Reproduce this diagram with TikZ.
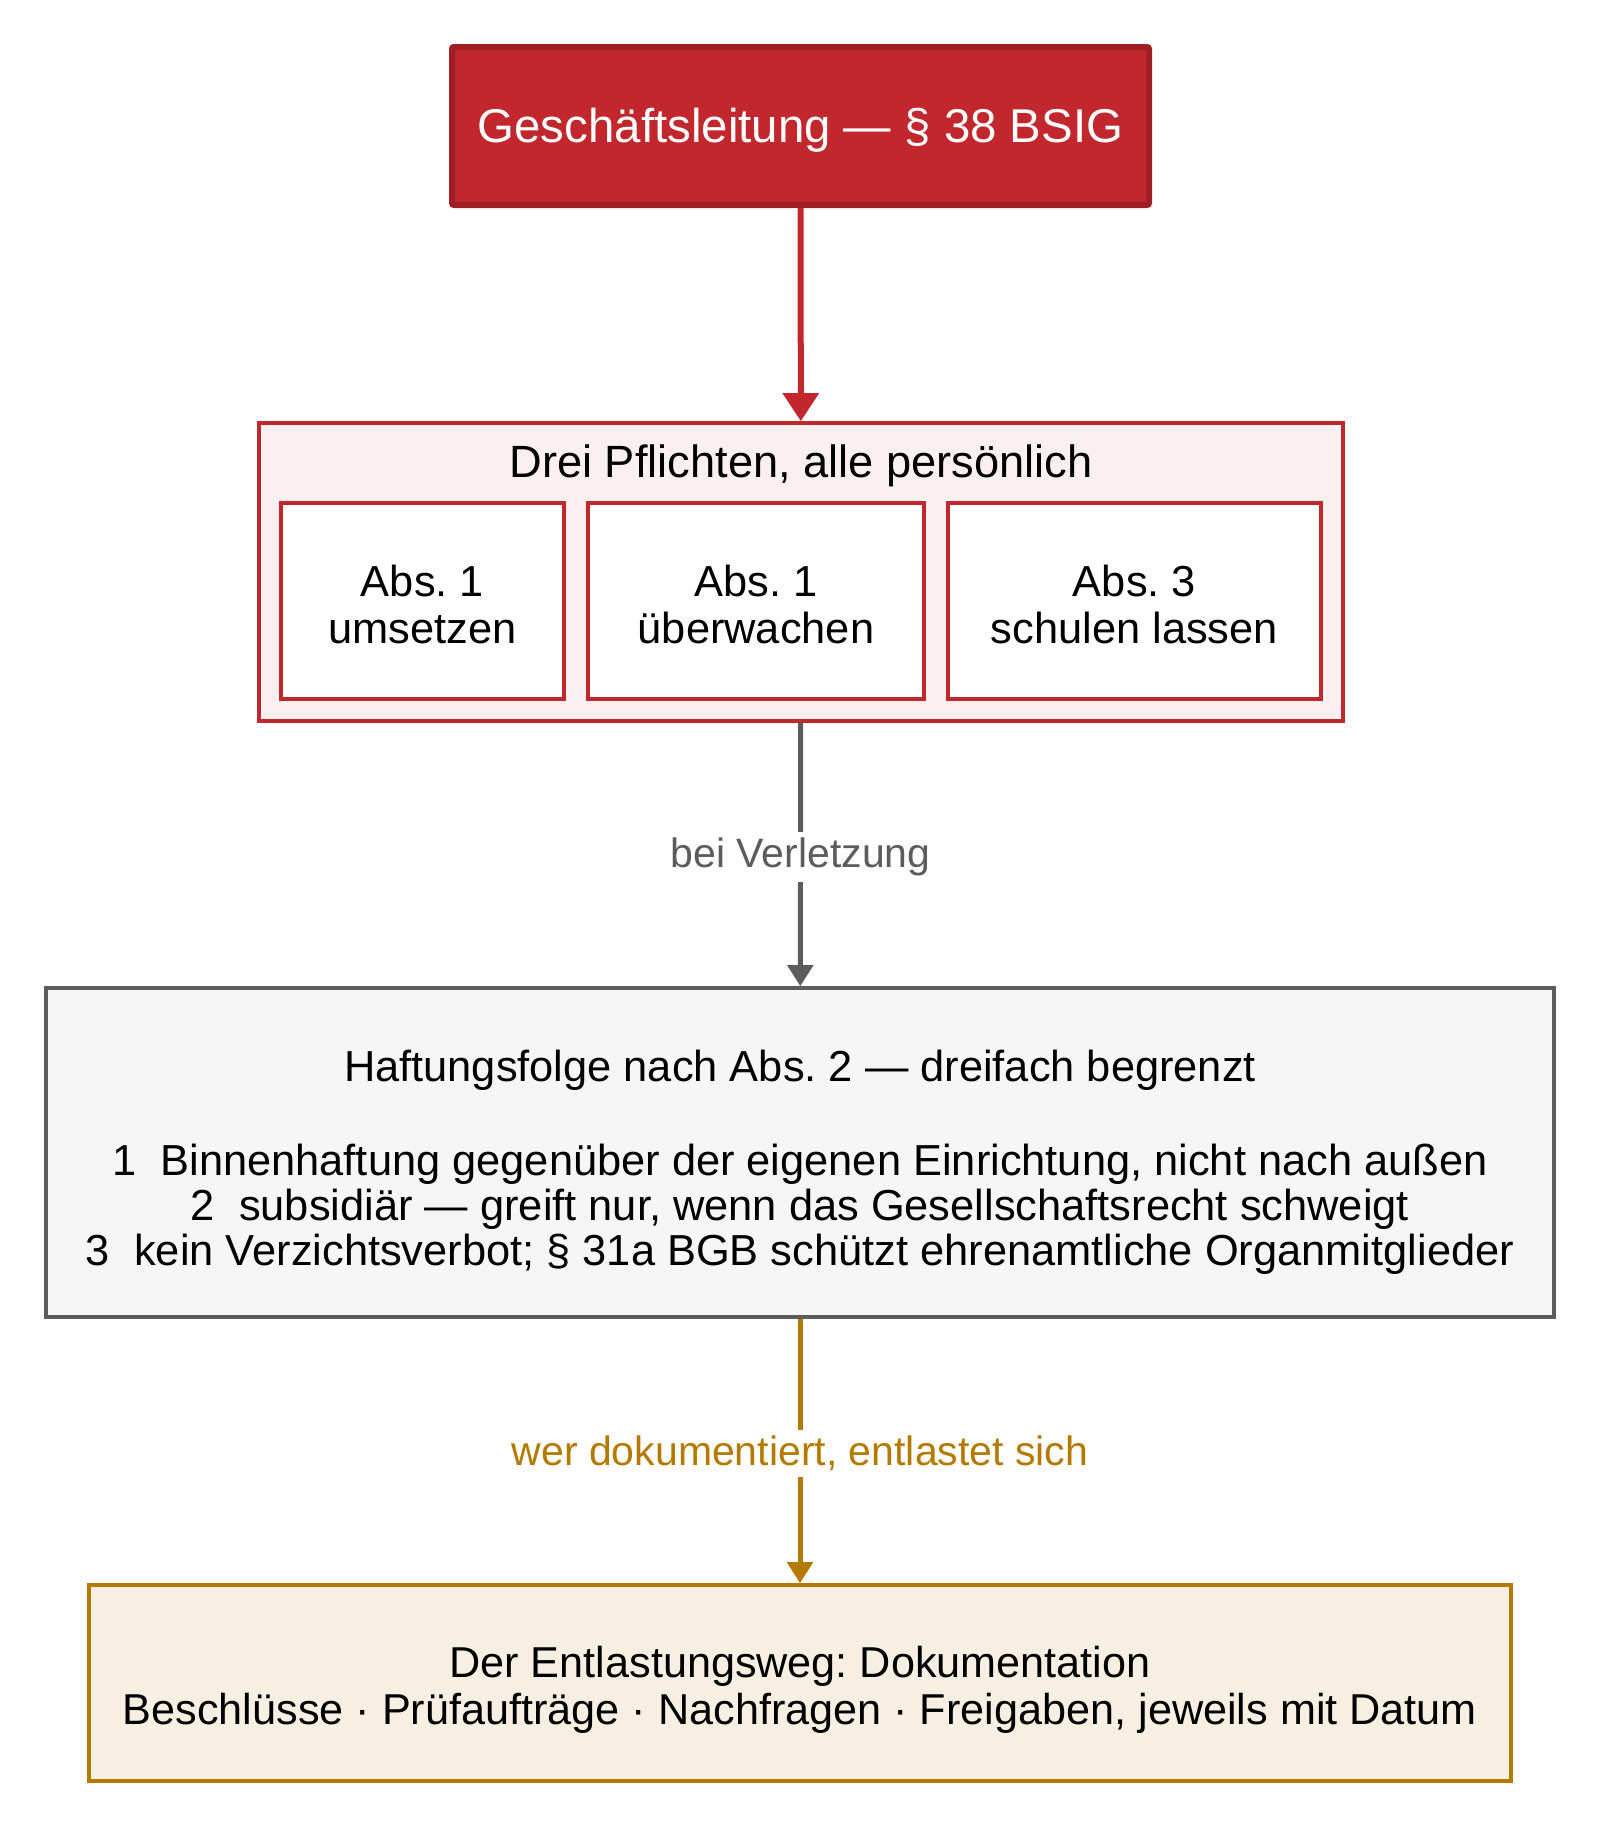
\documentclass[tikz,border=0pt]{standalone}
\usepackage{fontspec}
\setmainfont{Liberation Sans}
\frenchspacing
\usetikzlibrary{arrows.meta}
\definecolor{leitrot}{HTML}{C1272D}
\definecolor{leitrotdunkel}{HTML}{A01F27}
\definecolor{pflichtgrund}{HTML}{FAF0F0}
\definecolor{haftgrau}{HTML}{5C5C5C}
\definecolor{haftgrund}{HTML}{F6F6F6}
\definecolor{entgold}{HTML}{B47A00}
\definecolor{entgrund}{HTML}{F7F0E2}

\begin{document}
\begin{tikzpicture}[x=0.5pt,y=-0.5pt,
		textfont/.style={font=\fontsize{21.7}{23.5}\selectfont},
		labelfont/.style={font=\fontsize{20.5}{24}\selectfont},
		box/.style={draw,rectangle,inner sep=0pt,line width=1.8pt},
		boxtext/.style={align=center,inner sep=0pt,textfont},
		absbox/.style={box,draw=leitrot,fill=white,minimum height=98pt},
		pfeil/.style={line width=2.5pt,-{Triangle[length=10.5pt,width=12.5pt]}},
		pfeillabel/.style={fill=white,inner sep=3pt,yshift=-1.2pt,labelfont}]
	\useasboundingbox (0,0) rectangle (1600,1828);
	
	\node[box,draw=leitrotdunkel,fill=leitrot,line width=3pt,rounded corners=1pt,minimum width=348.5pt,minimum height=79pt] (leitung) at (800.5,126) {};
	\node[boxtext,text=white,font=\fontsize{23.7}{28}\selectfont] (leitungtext) at (800.5,130.5) {Geschäftsleitung — § 38 BSIG};
	
	\node[box,draw=leitrot,fill=pflichtgrund,minimum width=542pt,minimum height=149pt] (pflichten) at (801,572) {};
	\node[boxtext,font=\fontsize{22.6}{26}\selectfont] (pflichttitel) at (801,466) {Drei Pflichten, alle persönlich};
	\node[absbox,minimum width=141.5pt] (umsetzen) at (422.5,601) {};
	\node[absbox,minimum width=168pt] (ueberwachen) at (756,601) {};
	\node[absbox,minimum width=186.5pt] (schulen) at (1134.5,601) {};
	\node[boxtext] (umsetzentext) at (422.5,604) {Abs. 1\\umsetzen};
	\node[boxtext] (ueberwachentext) at (756,604) {Abs. 1\\überwachen};
	\node[boxtext] (schulentext) at (1134.5,604) {Abs. 3\\schulen lassen};
	
	\node[box,draw=haftgrau,fill=haftgrund,minimum width=754pt,minimum height=164.5pt] (haftung) at (800,1152.5) {};
	\node[boxtext,font=\fontsize{21.7}{22.5}\selectfont] (haftungtext) at (800,1162.5) {Haftungsfolge nach Abs. 2 — dreifach begrenzt\\[24.5pt]1~~Binnenhaftung gegenüber der eigenen Einrichtung, nicht nach außen\\2~~subsidiär — greift nur, wenn das Gesellschaftsrecht schweigt\\3~~kein Verzichtsverbot; § 31a BGB schützt ehrenamtliche Organmitglieder};
	
	\node[box,draw=entgold,fill=entgrund,minimum width=711pt,minimum height=98pt] (entlastung) at (800,1683) {};
	\node[boxtext,font=\fontsize{21.6}{23.5}\selectfont] (entlastungtext) at (800,1690) {Der Entlastungsweg: Dokumentation\\Beschlüsse · Prüfaufträge · Nachfragen · Freigaben, jeweils mit Datum};
	
	\draw[leitrot,line width=3pt,-{Triangle[length=14pt,width=17.5pt]}] (leitung) -- (pflichten);
	\draw[pfeil,haftgrau] (pflichten) -- node[pfeillabel,text=haftgrau] (verletzung) {bei Verletzung} (haftung);
	\draw[pfeil,entgold] (haftung) -- node[pfeillabel,text=entgold] (dokumentiert) {wer dokumentiert, entlastet sich} (entlastung);
\end{tikzpicture}
\end{document}
